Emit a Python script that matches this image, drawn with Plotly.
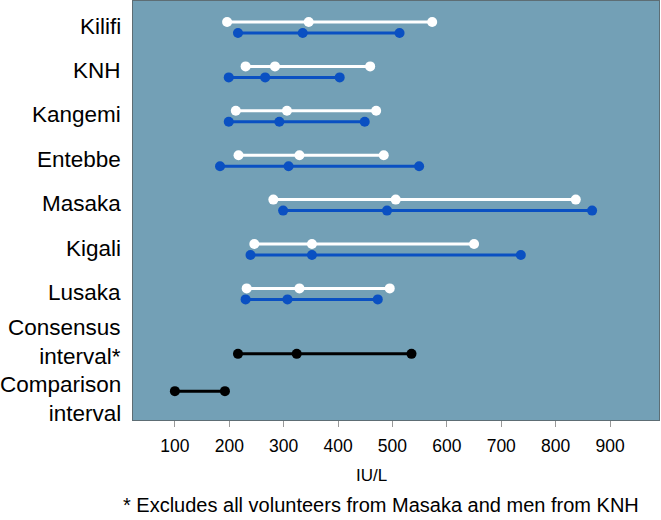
import plotly.graph_objects as go

sites = ["Kilifi", "KNH", "Kangemi", "Entebbe", "Masaka", "Kigali", "Lusaka"]
# white series (lower limit, median, upper limit)
white_low = [196, 230, 212, 217, 281, 246, 232]
white_mid = [346, 284, 306, 329, 506, 352, 329]
white_high = [573, 459, 470, 484, 837, 650, 495]
# blue series
blue_low = [216, 199, 199, 183, 299, 239, 230]
blue_mid = [335, 266, 292, 309, 490, 352, 307]
blue_high = [513, 403, 449, 549, 867, 736, 473]
# consensus and comparison intervals
consensus = [216, 324, 535]
comparison = [100, 192]
tick_vals = [100, 200, 300, 400, 500, 600, 700, 800, 900]

site_rows = list(range(len(sites)))
consensus_row = 7.35
comparison_row = 8.19
off = 0.124

WHITE = "#ffffff"
BLUE = "#0a50c2"
BLACK = "#000000"
FONT = "Liberation Sans, Arial, sans-serif"

fig = go.Figure()
for i, row in enumerate(site_rows):
    fig.add_trace(go.Scatter(
        x=[white_low[i], white_mid[i], white_high[i]], y=[row - off] * 3,
        mode="lines+markers", line=dict(color=WHITE, width=3),
        marker=dict(color=WHITE, size=10), showlegend=False, hoverinfo="x"))
    fig.add_trace(go.Scatter(
        x=[blue_low[i], blue_mid[i], blue_high[i]], y=[row + off] * 3,
        mode="lines+markers", line=dict(color=BLUE, width=3),
        marker=dict(color=BLUE, size=10), showlegend=False, hoverinfo="x"))

fig.add_trace(go.Scatter(
    x=consensus, y=[consensus_row] * len(consensus),
    mode="lines+markers", line=dict(color=BLACK, width=3),
    marker=dict(color=BLACK, size=10), showlegend=False, hoverinfo="x"))
fig.add_trace(go.Scatter(
    x=comparison, y=[comparison_row] * len(comparison),
    mode="lines+markers", line=dict(color=BLACK, width=3),
    marker=dict(color=BLACK, size=10), showlegend=False, hoverinfo="x"))

label_font = dict(family=FONT, size=22.5, color="#000000")
annotations = []
for i, name in enumerate(sites):
    annotations.append(dict(text=name, xref="paper", x=0, xshift=-10, xanchor="right",
                            yref="y", y=site_rows[i] - 0.03, yanchor="middle",
                            showarrow=False, font=label_font, align="right"))
annotations.append(dict(text="Consensus<br>interval*", xref="paper", x=0, xshift=-10,
                        xanchor="right", yref="y", y=7.09, yanchor="middle",
                        showarrow=False, font=label_font, align="right"))
annotations.append(dict(text="Comparison<br>interval", xref="paper", x=0, xshift=-10,
                        xanchor="right", yref="y", y=8.36, yanchor="middle",
                        showarrow=False, font=label_font, align="right"))
annotations.append(dict(text="IU/L", xref="paper", x=0.4525, xanchor="center",
                        yref="paper", y=0, yshift=-55, yanchor="middle", showarrow=False,
                        font=dict(family=FONT, size=17, color="#000000")))
annotations.append(dict(text="* Excludes all volunteers from Masaka and men from KNH",
                        xref="paper", x=0, xshift=-12, xanchor="left",
                        yref="paper", y=0, yshift=-85, yanchor="middle", showarrow=False,
                        font=dict(family=FONT, size=20, color="#000000")))

fig.update_layout(
    width=661, height=520,
    margin=dict(l=133, r=2, t=1, b=100, pad=0, autoexpand=False),
    paper_bgcolor="#ffffff",
    plot_bgcolor="#73a0b6",
    annotations=annotations,
    showlegend=False,
)
fig.update_xaxes(range=[23, 990], tickvals=tick_vals, ticks="outside", ticklen=6,
                 tickcolor="#999999", showgrid=False, zeroline=False,
                 showline=True, linecolor="#5d6d74", linewidth=1, mirror=True,
                 ticklabelstandoff=4,
                 tickfont=dict(family=FONT, size=17.5, color="#000000"))
fig.update_yaxes(range=[8.84, -0.597], showticklabels=False, ticks="", showgrid=False,
                 zeroline=False, showline=True, linecolor="#5d6d74", linewidth=1, mirror=True)

fig.write_html("out.html", config={"displayModeBar": False},
               post_script="document.body.style.margin='0';document.body.style.overflow='hidden';")
